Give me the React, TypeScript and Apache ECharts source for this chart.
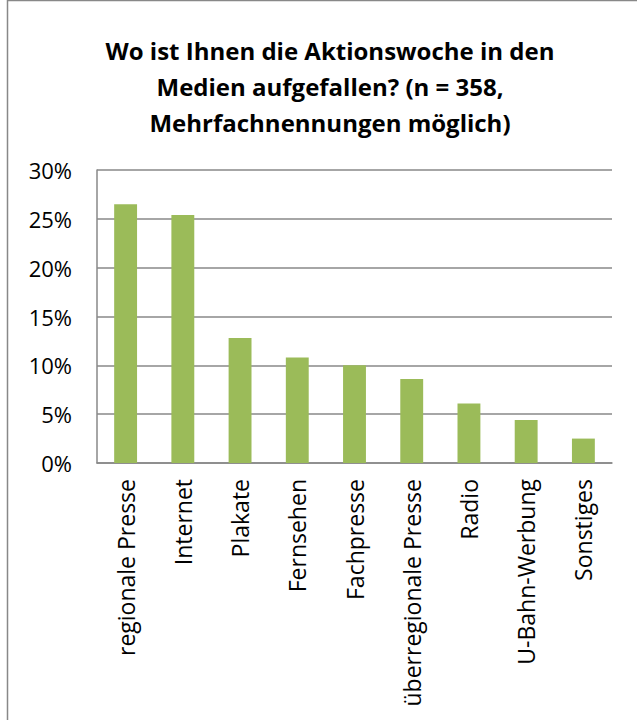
import React, { useEffect, useRef } from "react";
import * as echarts from "echarts";

const categories = [
  "regionale Presse",
  "Internet",
  "Plakate",
  "Fernsehen",
  "Fachpresse",
  "überregionale Presse",
  "Radio",
  "U-Bahn-Werbung",
  "Sonstiges",
];
const values = [0.265, 0.254, 0.128, 0.108, 0.1, 0.086, 0.061, 0.044, 0.025];
const titleLines = [
  "Wo ist Ihnen die Aktionswoche in den",
  "Medien aufgefallen? (n = 358,",
  "Mehrfachnennungen möglich)",
];

export default function App() {
  const ref = useRef<HTMLDivElement>(null);
  useEffect(() => {
    document.body.style.margin = "0";
    const chart = echarts.init(ref.current!, null, { renderer: "svg" });
    const font = "Open Sans";
    chart.setOption({
      animation: false,
      backgroundColor: "#fff",
      title: {
        text: titleLines.join("\n"),
        left: 325,
        top: 27,
        textAlign: "center",
        textStyle: {
          fontFamily: font,
          fontSize: 24,
          fontWeight: "bold",
          lineHeight: 36,
          color: "#000",
        },
      },
      graphic: [
        {
          type: "rect",
          shape: { x: 7.5, y: 0.5, width: 660, height: 760 },
          style: { fill: "none", stroke: "#888", lineWidth: 1.5 },
          silent: true,
        },
      ],
      grid: { left: 97, right: 25, top: 170, bottom: 257 },
      xAxis: {
        type: "category",
        data: categories,
        axisLine: { lineStyle: { color: "#888", width: 1.5 } },
        axisTick: { show: false },
        axisLabel: {
          rotate: 90,
          interval: 0,
          margin: 16,
          fontFamily: font,
          fontSize: 23,
          color: "#000",
        },
      },
      yAxis: {
        type: "value",
        min: 0,
        max: 0.3,
        interval: 0.05,
        axisLine: { show: true, lineStyle: { color: "#888", width: 1.5 } },
        axisTick: { show: false },
        splitLine: { lineStyle: { color: "#888", width: 1.5 } },
        axisLabel: {
          margin: 25,
          fontFamily: font,
          fontSize: 22,
          color: "#000",
          formatter: (v: number) => Math.round(v * 100) + "%",
        },
      },
      series: [
        {
          type: "bar",
          data: values,
          barWidth: "40%",
          itemStyle: { color: "#9BBB59" },
        },
      ],
    });
    return () => chart.dispose();
  }, []);
  return <div ref={ref} style={{ width: 637, height: 720 }} />;
}
